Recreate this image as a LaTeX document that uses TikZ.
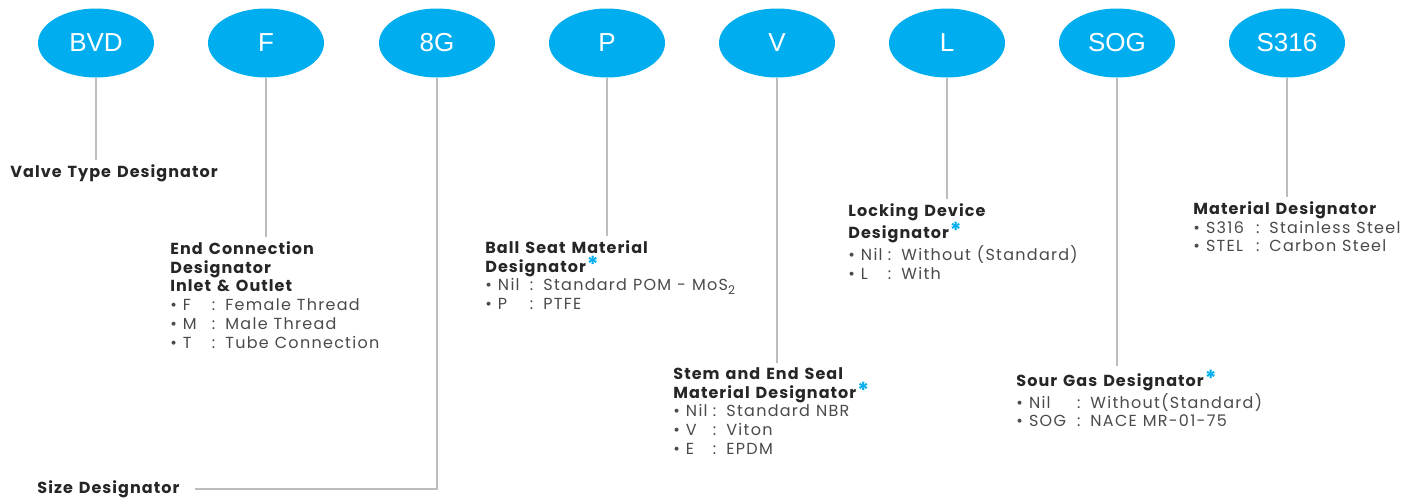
\documentclass[tikz,border=0pt]{standalone}
\usepackage{fontspec}
\setmainfont{Poppins}[LetterSpace=8,BoldFeatures={LetterSpace=6.5}]
\newfontfamily\ovalfont{Liberation Sans}
\usetikzlibrary{shapes.geometric}
\definecolor{ovalblue}{HTML}{00AEEF}
\definecolor{stemgray}{HTML}{BDBDBD}
\definecolor{headgray}{HTML}{262626}
\definecolor{itemgray}{HTML}{4A4A4A}
% one option line: width of code column, code, meaning
\newcommand{\opt}[3]{{\mdseries\color{itemgray}\textbullet\hspace{3pt}\makebox[#1][l]{#2}:\hspace{5pt}#3}}
\newcommand{\req}{\hspace{0.5pt}\textcolor{ovalblue}{\fontsize{11}{11}\selectfont*}}
\newcommand{\widewords}{\spaceskip=3pt plus 1pt\relax}

\begin{document}
\begin{tikzpicture}[x=0.5pt,y=-0.5pt]
    \tikzset{code/.style={ellipse,fill=ovalblue,minimum width=58pt,minimum height=34.5pt,inner sep=0pt,
                text=white,font=\ovalfont\fontsize{13}{13}\selectfont},
        desc/.style={anchor=north west,inner sep=0pt,align=left,text=headgray,
                font=\fontsize{8}{9.4}\selectfont\bfseries\widewords},
        stem/.style={draw=stemgray,line width=0.75pt,shorten >=2pt}}
    \useasboundingbox (0,0) rectangle (1415,498);
    % the code, part by part
    \node[code] (bvd)  at (96,43)   {BVD};
    \node[code] (f)    at (266,43)  {F};
    \node[code] (g8)   at (437,43)  {8G};
    \node[code] (p)    at (607,43)  {P};
    \node[code] (v)    at (777,43)  {V};
    \node[code] (l)    at (947,43)  {L};
    \node[code] (sog)  at (1117,43) {SOG};
    \node[code] (s316) at (1287,43) {S316};
    % what each part means
    \node[desc,anchor=base west] (valve) at (10,177) {Valve Type Designator};
    \node[desc] (endcon) at (170,241) {End Connection\\Designator\\Inlet \& Outlet\\
        \opt{14.5pt}{F}{Female Thread}\\\opt{14.5pt}{M}{Male Thread}\\\opt{14.5pt}{T}{Tube Connection}};
    \node[desc,anchor=base west] (size) at (37,493) {Size Designator};
    \node[desc] (seat) at (485,240) {Ball Seat Material\\Designator\req\\
        \opt{16pt}{Nil}{Standard POM - MoS\textsubscript{2}}\\\opt{16pt}{P}{PTFE}};
    \node[desc] (seal) at (673,367) {Stem and End Seal\\Material Designator\req\\
        \opt{13.5pt}{Nil}{Standard NBR}\\\opt{13.5pt}{V}{Viton}\\\opt{13.5pt}{E}{EPDM}};
    \node[desc] (lock) at (848,203) {Locking Device\\Designator\req\\
        \opt{13.5pt}{Nil}{Without (Standard)}\\\opt{13.5pt}{L}{With}};
    \node[desc] (sour) at (1016,370) {Sour Gas Designator\req\\
        \opt{24pt}{Nil}{Without(Standard)}\\\opt{24pt}{SOG}{NACE MR-01-75}};
    \node[desc] (mat) at (1193,201) {Material Designator\\
        \opt{25pt}{S316}{Stainless Steel}\\\opt{25pt}{STEL}{Carbon Steel}};
    % connectors
    \draw[stem] (bvd.south) -- (bvd |- valve.north);
    \draw[stem] (f.south) -- (f |- endcon.north);
    \draw[stem,shorten >=7.5pt] (g8.south) |- (size.east);
    \draw[stem] (p.south) -- (p |- seat.north);
    \draw[stem] (v.south) -- (v |- seal.north);
    \draw[stem] (l.south) -- (l |- lock.north);
    \draw[stem] (sog.south) -- (sog |- sour.north);
    \draw[stem] (s316.south) -- (s316 |- mat.north);
\end{tikzpicture}
\end{document}
